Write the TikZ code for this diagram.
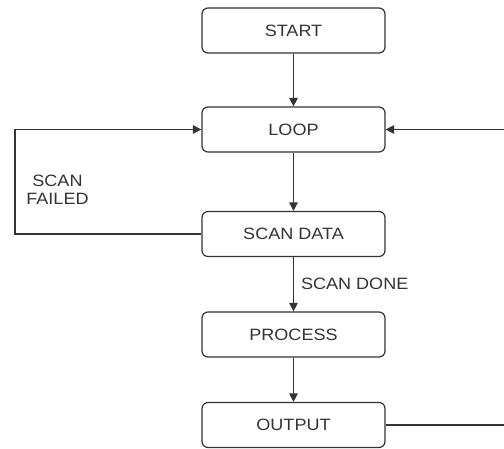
\documentclass[tikz,border=0pt]{standalone}
\usepackage{fontspec}
\setmainfont{Liberation Sans}[FakeStretch=1.1]
\usetikzlibrary{arrows.meta}
\begin{document}
\begin{tikzpicture}[x=1pt,y=-1pt,
  statebox/.style={draw=black!80, line width=1.2pt, rounded corners=6pt,
    minimum width=183pt, minimum height=45pt, inner sep=0pt,
    text=black!80, font=\fontsize{16.4}{19}\selectfont},
  lbl/.style={text=black!80, font=\fontsize{16.4}{17.5}\selectfont, inner sep=0pt, align=center},
  link/.style={draw=black!80, line width=1.2pt, -{Triangle[length=8.5pt,width=8.5pt]}}]
\useasboundingbox (0,0) rectangle (504,448);
\clip (0,0) rectangle (504,448);

\node[statebox] (start)   at (293.5,30.5)  {START};
\node[statebox] (loop)    at (293.5,129.5) {LOOP};
\node[statebox] (scan)    at (293.5,234)   {SCAN DATA};
\node[statebox] (process) at (293.5,334.5) {PROCESS};
\node[statebox] (output)  at (293.5,425)   {OUTPUT};

\coordinate (failL) at (15,234);
\coordinate (failT) at (15,129.5);
\coordinate (backB) at (510,425);
\coordinate (backT) at (510,129.5);

\draw[link] (start) -- (loop);
\draw[link] (loop) -- (scan);
\draw[link] (scan) -- node[lbl, anchor=west, xshift=7pt] {SCAN DONE} (process);
\draw[link] (process) -- (output);

% retry path on the left
\draw[link] (scan.west) -- (failL) -- (failT) -- (loop.west);
\node[lbl] (failed) at (57.5,190) {SCAN\\FAILED};

% return path on the right
\draw[link] (output.east) -- (backB) -- (backT) -- (loop.east);
\end{tikzpicture}
\end{document}
